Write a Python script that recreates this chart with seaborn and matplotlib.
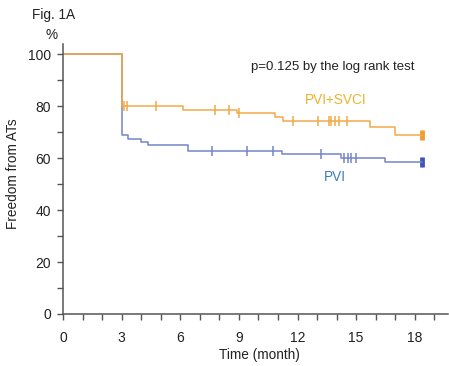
import numpy as np
import pandas as pd
import matplotlib
matplotlib.use("Agg")
import matplotlib.pyplot as plt
import seaborn as sns
from matplotlib.ticker import MultipleLocator

# ---- data ----
svci_times = [0, 3, 6.15, 8.9, 10.85, 11.25, 15.7, 17.0, 18.35]
svci_surv = [100, 80, 78.6, 77.4, 75.9, 74.4, 72.0, 69.0, 69.0]
svci_cens = [3.12, 3.3, 4.76, 7.77, 8.5, 9.0, 11.75, 13.05, 13.6, 13.7, 13.9, 14.1, 14.55, 18.3, 18.4]

pvi_times = [0, 3, 3.35, 3.97, 4.37, 6.4, 11.2, 14.25, 16.5, 18.35]
pvi_surv = [100, 68.8, 67.6, 66.4, 65.0, 62.8, 61.5, 60.0, 58.5, 58.5]
pvi_cens = [7.6, 9.4, 10.76, 13.2, 14.4, 14.6, 14.76, 15.0, 18.3, 18.4]

x_ticks = [0, 3, 6, 9, 12, 15, 18]
y_ticks = [0, 20, 40, 60, 80, 100]

svci_color = "#F2A947"
pvi_color = "#7385C9"
svci_end_color = "#F29A2E"
pvi_end_color = "#3F55B5"
svci_text_color = "#EDB22E"
pvi_text_color = "#3C7DBF"


def step_at(times, surv, t):
    idx = np.searchsorted(times, t, side="right") - 1
    return np.asarray(surv)[idx]


curves = pd.concat([
    pd.DataFrame({"time": svci_times, "surv": svci_surv, "group": "PVI+SVCI"}),
    pd.DataFrame({"time": pvi_times, "surv": pvi_surv, "group": "PVI"}),
])
cens = pd.concat([
    pd.DataFrame({"time": svci_cens, "surv": step_at(svci_times, svci_surv, svci_cens), "group": "PVI+SVCI"}),
    pd.DataFrame({"time": pvi_cens, "surv": step_at(pvi_times, pvi_surv, pvi_cens), "group": "PVI"}),
])
palette = {"PVI+SVCI": svci_color, "PVI": pvi_color}
end_palette = {"PVI+SVCI": svci_end_color, "PVI": pvi_end_color}

sns.set_style("ticks")
plt.rcParams["font.family"] = ["Liberation Sans", "DejaVu Sans"]

fig = plt.figure(figsize=(4.49, 3.66), dpi=100)
ax = fig.add_axes([0.1403, 0.1421, 0.8575, 0.739])

for g in ["PVI", "PVI+SVCI"]:
    sub = curves[curves.group == g]
    sns.lineplot(data=sub, x="time", y="surv", ax=ax, color=palette[g],
                 drawstyle="steps-post", linewidth=1.1, estimator=None, sort=False)
    sc = cens[cens.group == g]
    sns.scatterplot(data=sc.iloc[:-2], x="time", y="surv", ax=ax, color=palette[g],
                    marker="|", s=45, linewidth=1.1)
    sns.scatterplot(data=sc.iloc[-2:], x="time", y="surv", ax=ax, color=end_palette[g],
                    marker="|", s=55, linewidth=2.0)

ax.set_xlim(0, 19.7)
ax.set_ylim(0, 104.2)
ax.set_xticks(x_ticks)
ax.set_yticks(y_ticks)
ax.xaxis.set_minor_locator(MultipleLocator(1))
ax.yaxis.set_minor_locator(MultipleLocator(10))
ax.tick_params(axis="both", which="both", length=4.5, width=1.0, color="#555555",
               labelsize=10, labelcolor="#222222")
ax.tick_params(axis="x", pad=8)
ax.tick_params(axis="y", pad=4)
for s in ["left", "bottom"]:
    ax.spines[s].set_color("#555555")
    ax.spines[s].set_linewidth(1.1)
sns.despine(ax=ax)

ax.set_xlabel("Time (month)", fontsize=9.8, color="#222222")
ax.set_ylabel("Freedom from ATs", fontsize=9.8, color="#222222")
ax.xaxis.set_label_coords(0.509, -0.127)
ax.yaxis.set_label_coords(-0.112, 0.52)

ax.text(9.62, 95, "p=0.125 by the log rank test", fontsize=9.5, color="#222222",
        ha="left", va="center")
ax.text(13.94, 79.7, "PVI+SVCI", fontsize=9.8, color=svci_text_color, ha="center", va="bottom")
ax.text(13.89, 52.8, "PVI", fontsize=9.8, color=pvi_text_color, ha="center", va="center")

fig.text(32 / 449, 1 - 15 / 366, "Fig. 1A", fontsize=9.8, color="#222222", ha="left", va="center")
fig.text(52 / 449, 1 - 35 / 366, "%", fontsize=9.8, color="#222222", ha="center", va="center")

fig.savefig("out.png", dpi=100)
